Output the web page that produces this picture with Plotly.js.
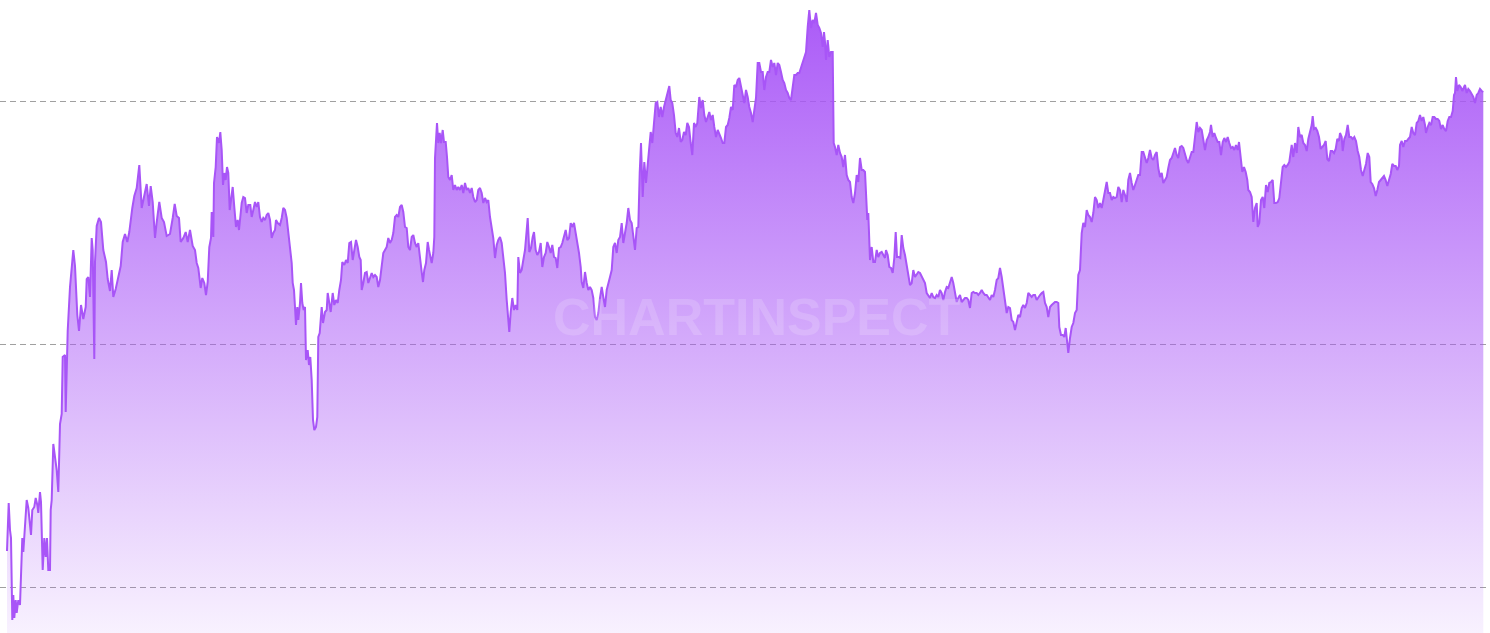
<!DOCTYPE html>
<html>
<head>
<meta charset="utf-8">
<script src="https://cdn.plot.ly/plotly-3.0.1.min.js"></script>
<style>html,body{margin:0;padding:0;background:#fff;}#chart{width:1490px;height:633px;}</style>
</head>
<body>
<div id="chart"></div>
<script>
// Day index (horizontal position in the series) and value of the series
const days = [
7,8.7,10,11,12.3,13.3,14.3,15.7,16.7,18.3,20,21,22.3,23.3,25,26.7,28.3,31,32.3,34.3,35.7,37.3,38.3,40,41,42.7,44.3,45.7,47,48.3,50,50.7,51.7,53.3,56.7,58.3,60,61.7,62.7,65,65.7,67.7,70,71.7,73.3,75,77.3,79,81,83.3,85.7,86.7,88.3,90,91.7,92.7,94.3,95,96.7,99,101,103.3,106,107.7,110,111.7,113.3,115.7,118.3,120.7,122.7,125,127.3,129.3,132.3,134.3,136.7,139.3,141.7,144,146.7,149,150.7,152.7,155,156.7,159.3,161.7,164,166.7,170,172.7,174.7,176.7,179,180.7,183.3,185.7,187.7,190,192.7,
195,196.7,198.3,200.7,202.3,204.3,206,207.7,209.3,211,211.7,213.3,214,215.7,217,219,220.3,221.7,223,224.3,225.7,227,228.3,229.7,231,232.7,234.3,236,237.7,239,240.3,241.7,243.3,245,246.7,248.3,250.3,251.7,253.3,255,256.7,258.3,260,261.7,263.3,265,266.7,268.3,270,271.7,273.3,275,276,277.7,280,281.7,283.3,285,286.7,288.3,290,291.7,292.7,294,295,296,297.3,298.3,300,301,302.3,303.7,305,306,307.7,309,310.3,311.7,313,314.3,316,317.3,318.3,319.7,321.7,323,325,326.7,327.7,329.3,330.7,332.7,334.3,336,337.7,339.3,341,342.3,344.3,346,347.7,349.3,351,352.7,354.3,356,357.7,359.3,360.7,361.7,363.3,365,366.7,368.3,370,371.7,373.3,375,376.7,378.3,380,381.7,383.3,385,386.7,388.3,390,391.7,393.3,395,396.7,398.3,400,401.7,403.3,405,406.7,408.3,410,411.7,413.3,
415,416.7,418.3,420,421.7,423,424.3,426,427.7,429,430.3,431.7,433.3,434.3,435,436,437,438.3,439.7,441,442.7,444,445.7,447,448.3,450,451.7,453.3,455,456.7,458.3,460,461.7,463.3,465,466.7,468.3,470,471.7,473.3,475,476.7,478.3,480,481.7,483.3,485,486.7,488.3,490,491.7,493.3,495,496.7,498.3,500,501.7,503.3,505,506.7,508.3,509.3,510.7,512.3,514,515.7,517.3,518.3,520,521.7,523.3,525,526.7,527.7,529.3,531,532.7,534,535.7,537.3,539,540.7,542.3,544,545.7,547.3,549,550.7,552.3,554,555.7,557.3,559,560.7,562.3,564,565.7,567.3,569,570.7,572.3,574,575.7,577.3,579,580.7,581.7,583.3,585,586.7,588.3,590,591.7,593.3,595,596.7,598.3,600,601.7,603.3,605,606.7,608.3,610,611.7,613.3,615,616.7,618.3,620,621.7,623.3,625,626.7,628.3,630,631.7,633.3,
635,636.7,638.3,639.7,641,642.7,644.3,646,647.7,649,650.7,652.3,654,655.7,657.3,659,660.7,662.3,664,665.7,667.3,669.3,670.7,672.3,674,675.7,677.3,679,680.7,682.3,684,685.7,687.3,689,690.7,692.3,694,695.7,697.3,699.3,701,702.7,704.3,706,707.7,709.3,711,712.7,714.3,716,717.7,719.3,721,722.7,724.3,726,727.7,729.3,731,732.7,734.3,736,737.7,739.3,741,742.7,744.3,746,747.7,749.3,751,752.7,754.3,756,757.7,759.3,761,762.7,764.3,766,767.7,769.3,771,772.7,774.3,776,777.7,779.3,781,782.7,784.3,786,787.7,789.3,791,792.7,794.3,796,797.7,799.3,801,802.7,804.3,806,807.7,809.3,811,812.7,814.3,816,817.7,819.3,821,822.7,824,825,826,827.7,829.3,831,832.7,833.7,835,836.7,838.3,840,841.7,843.3,845,846.7,848.3,850,851.7,853.3,
855,856.7,858.3,860,861.7,863.3,865,866,867.3,868.3,870,871.7,873.3,875,876.7,878.3,880,881.7,883.3,885,886,887.7,889.3,891,892.7,894.3,895.7,897,898.7,900.3,901.7,903.3,905,906.7,908.3,910,911.7,913.3,915,916.7,918.3,920,921.7,923.3,925,926.7,928.3,930,931.7,933.3,935,936.7,938.3,940,941.7,943.3,945,946.7,948.3,950,951.7,953.3,955,956.7,958.3,960,961.7,963.3,965,966.7,968.3,970,971.7,973.3,975,976.7,978.3,980,981.7,983.3,985,986.7,988.3,990,991.7,993.3,995,996.7,998.3,1000,1001.7,1003.3,1005,1006.7,1008.3,1010,1011.7,1013.3,1015,1016.7,1018.3,1020,1021.7,1023.3,1025,1026.7,1028.3,1030,1031.7,1033.3,1035,1036.7,1038.3,1040,1041.7,1043.3,1045,1046.7,1048.3,1050,1051.7,1053.3,1055,1056.7,1058.3,1059.3,1061,1062.7,1064.3,1065.7,1067,1068.3,1070,1071.7,1073.3,
1075,1076.7,1078.3,1080,1081.7,1083.3,1085,1086.7,1088.3,1090,1091.7,1093.3,1095,1096.7,1098.3,1100,1101.7,1103.3,1105,1106.7,1108.3,1110,1111.7,1113.3,1115,1116.7,1118.3,1120,1121.7,1123.3,1125,1126.7,1128.3,1130,1131.7,1133.3,1135,1136.7,1138.3,1140,1141.7,1143.3,1145,1146.7,1148.3,1150,1151.7,1153.3,1155,1156.7,1158.3,1160,1161.7,1163.3,1165,1166.7,1168.3,1170,1171.7,1173.3,1175,1176.7,1178.3,1180,1181.7,1183.3,1185,1186.7,1188.3,1190,1191.7,1193.3,1195,1196.7,1198.3,1200,1201.7,1203.3,1205,1206.7,1208.3,1210,1211,1212.7,1214.3,1216,1217.7,1219.3,1221,1222.7,1224.3,1226,1227.7,1229.3,1231,1232.7,1234.3,1236,1237.7,1239,1240.7,1242.3,1244,1245.7,1247.3,1248.3,1250,1251.7,1253.3,1255,1256.7,1257.7,1259.3,1261,1262.7,1264.3,1266,1267.7,1269.3,1271,1272.7,1274.3,1276,1277.7,1279.3,1281,1282.7,1284.3,1286,1287.7,1289.3,
1291.7,1293.3,1295,1296.7,1298.3,1300,1301.7,1303.3,1305,1306.7,1308.3,1310,1311.7,1312.7,1314,1315.7,1317.3,1319,1320.7,1322.3,1324,1325.7,1327.3,1329,1330.7,1332.3,1334,1335.7,1337.3,1339,1340,1341.7,1342.7,1344.3,1346,1347.7,1349.3,1351,1352.7,1354.3,1356,1357.7,1359.3,1361,1362.7,1364.3,1366,1367.7,1369.3,1370.7,1372.3,1374,1375.7,1377.3,1379,1380.7,1382.3,1384,1385.7,1387.3,1389,1390.7,1392.3,1394,1395.7,1397.3,1399,1400,1401.7,1403.3,1405,1406.7,1408.3,1410,1411.7,1413.3,1415,1416.7,1418.3,1420,1421.7,1423.3,1425,1426,1427.7,1429.3,1431,1432.7,1434.3,1436,1437.7,1439.3,1441,1442.7,1444.3,1446,1447.7,1449.3,1451,1452.7,1454,1455,1456,1457.3,1459,1460.7,1462.3,1464,1465,1466.7,1468.3,1470,1471.7,1473.3,1475,1476.7,1478.3,1480,1481.7,1483.3
];
const values = [
82,130,103,95,13,38,15,33,20,33,28,56,95,81,108,133,125,98,123,126,135,128,120,141,131,63,95,76,95,63,63,123,133,189,163,141,209,219,276,278,221,302,346,367,383,367,318,302,328,314,326,354,356,336,395,383,274,371,407,415,411,383,371,354,342,363,336,344,358,367,391,399,391,401,425,437,445,468,425,435,449,427,447,431,395,411,431,415,411,397,399,415,429,417,415,391,395,401,391,403,387,
383,370,365,345,355,350,338,351,386,395,421,396,450,466,496,490,501,483,448,460,453,466,460,423,433,446,426,406,413,403,416,430,436,435,420,428,428,416,423,431,426,431,416,411,415,413,418,420,413,395,400,403,413,410,408,415,425,423,415,401,383,370,350,343,326,308,326,313,330,350,330,323,326,273,283,268,276,253,213,203,206,216,296,300,326,310,321,323,340,330,321,340,328,333,330,343,353,371,368,373,370,390,391,373,383,393,386,376,373,343,350,360,361,350,355,360,356,358,356,346,353,366,380,383,386,395,390,393,400,416,418,416,426,428,421,406,405,386,383,396,398,
390,386,390,373,361,351,363,370,391,383,375,370,380,396,475,490,510,490,500,490,503,491,491,476,456,453,458,443,448,443,446,443,448,440,450,443,445,440,445,436,431,433,443,445,440,430,435,431,433,416,403,395,375,388,393,396,390,373,360,333,313,301,321,335,323,328,323,376,360,363,373,383,403,415,381,385,396,401,383,378,381,390,366,376,380,391,386,380,388,376,375,365,385,386,390,396,403,393,395,410,406,410,400,388,380,366,351,345,361,350,343,346,343,335,316,313,320,335,346,336,326,343,351,356,363,386,390,380,393,396,410,390,400,410,425,413,410,396,
383,405,406,460,490,436,471,450,466,481,501,490,510,530,531,516,526,516,526,533,540,547,533,530,518,500,496,505,491,493,501,498,510,506,490,478,510,506,510,536,525,533,518,511,516,521,513,518,506,496,503,498,495,490,490,506,508,515,526,523,548,546,553,555,546,536,530,543,536,526,520,511,525,535,570,570,561,561,543,556,561,561,573,566,570,558,570,568,561,553,550,543,540,535,533,548,558,558,560,560,566,570,576,581,606,623,605,613,610,620,608,605,600,586,601,591,573,593,576,581,581,490,486,478,488,480,476,466,478,458,453,451,436,430,
440,458,451,475,463,463,461,433,413,420,373,386,371,371,383,376,380,381,378,375,383,378,366,365,360,375,401,376,376,375,398,385,378,368,360,348,350,363,356,358,361,360,356,353,350,340,338,335,340,336,335,338,336,343,340,333,341,346,345,350,356,350,340,331,335,338,331,333,335,335,333,325,340,341,340,340,338,340,343,340,338,338,336,333,338,336,343,353,355,365,356,343,333,320,326,325,313,311,303,313,318,316,325,328,325,330,340,338,336,338,338,333,336,338,340,341,330,326,316,326,328,330,331,331,330,306,298,298,296,305,291,280,295,306,310,
320,323,358,363,400,410,406,423,418,416,411,420,436,433,425,430,425,433,441,451,440,440,433,436,435,436,446,443,431,443,438,431,453,460,450,443,448,453,458,458,481,481,475,470,475,483,475,473,478,481,465,456,460,450,453,456,465,473,475,481,485,478,475,486,487,485,478,473,470,476,481,481,500,511,501,505,503,493,483,493,496,501,508,496,500,495,491,491,478,491,495,491,496,490,485,486,483,488,483,491,473,461,466,461,453,443,441,436,411,425,430,406,410,433,436,425,448,441,450,451,453,430,430,431,435,450,466,468,466,468,471,
488,476,490,480,506,496,498,490,488,482,494,500,508,517,504,505,502,496,484,486,488,492,474,472,482,482,480,484,494,492,500,496,482,494,498,508,496,496,494,496,492,482,476,463,457,463,469,480,476,451,449,445,437,443,451,453,455,457,453,447,453,459,469,467,467,463,467,488,492,486,492,492,494,496,506,500,498,510,512,518,512,516,508,500,506,510,508,516,516,514,514,512,504,508,504,502,512,516,516,522,538,540,556,542,548,546,542,546,548,540,544,542,538,536,530,538,540,544,542,541
];

const lineColor = '#a855f7';

const trace = {
  type: 'scatter',
  mode: 'lines',
  x: days,
  y: values,
  line: {color: lineColor, width: 2},
  fill: 'tozeroy',
  fillgradient: {
    type: 'vertical',
    start: 0,
    stop: 633,
    colorscale: [[0, 'rgba(168,85,247,0.08)'], [1, 'rgba(168,85,247,0.98)']]
  },
  hoverinfo: 'skip'
};

const layout = {
  width: 1490,
  height: 633,
  margin: {l: 0, r: 3, t: 0, b: 0, pad: 0},
  paper_bgcolor: '#ffffff',
  plot_bgcolor: '#ffffff',
  showlegend: false,
  hovermode: false,
  xaxis: {
    range: [0, 1487],
    showgrid: false, zeroline: false, showline: false,
    showticklabels: false, ticks: ''
  },
  yaxis: {
    range: [0, 633],
    tick0: 46, dtick: 243,
    showgrid: true,
    gridcolor: 'rgba(120,120,120,0.7)',
    gridwidth: 1,
    griddash: '6px,4px',
    layer: 'above traces',
    zeroline: false, showline: false,
    showticklabels: false, ticks: ''
  },
  annotations: [{
    xref: 'paper', yref: 'paper',
    x: 0.509, y: 0.5,
    xanchor: 'center', yanchor: 'middle',
    text: 'CHARTINSPECT',
    showarrow: false,
    font: {family: 'Liberation Sans, Arial, sans-serif', size: 52, weight: 'bold', color: 'rgba(255,255,255,0.16)'}
  }]
};

Plotly.newPlot('chart', [trace], layout, {displayModeBar: false, staticPlot: true});
</script>
</body>
</html>
